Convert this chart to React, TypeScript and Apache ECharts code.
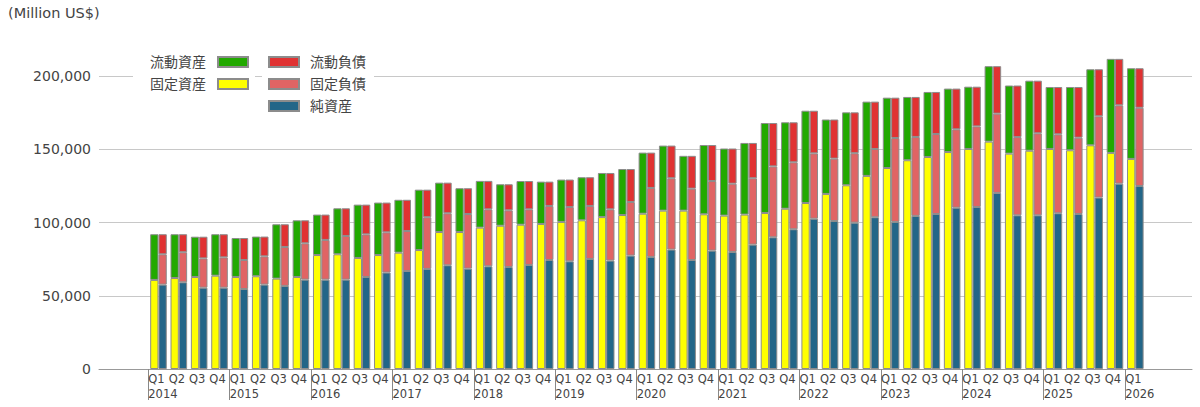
import React, { useEffect, useRef } from "react";
import * as echarts from "echarts";

const years = [2014, 2015, 2016, 2017, 2018, 2019, 2020, 2021, 2022, 2023, 2024, 2025, 2026];
const quarterNames = ["Q1", "Q2", "Q3", "Q4"];
const yTicks = [0, 50000, 100000, 150000, 200000];

// 流動資産 (current assets)
const currentAssets = [
  31200, 29900, 27500, 28300, 26600, 27100, 37100, 38700, 27600, 31400, 36400, 35800,
  36100, 41200, 33700, 29900, 31900, 28300, 29800, 28900, 28900, 29400, 30100, 31400,
  41700, 44400, 37400, 47300, 45800, 48900, 61400, 59000, 63000, 50800, 49800, 50700,
  48000, 43200, 44400, 43300, 42500, 51500, 46500, 47800, 42300, 43200, 51900, 64200,
  61900,
];
// 固定資産 (fixed assets)
const fixedAssets = [
  60800, 62100, 62800, 63700, 62800, 63300, 61700, 62800, 77800, 78300, 75800, 77800,
  79400, 81200, 93500, 93500, 96500, 97800, 98500, 99000, 100400, 101500, 103700, 105100,
  106000, 108100, 108100, 105600, 104700, 105400, 106500, 109400, 113300, 119500, 125400, 131800,
  137200, 142500, 144700, 148100, 150200, 155200, 147000, 149000, 150200, 149300, 152700, 147500,
  143400,
];
// 流動負債 (current liabilities)
const currentLiabilities = [
  13700, 12300, 14800, 15800, 15000, 13500, 15500, 15700, 17300, 18900, 20300, 20300,
  21300, 18800, 20900, 17600, 19400, 17800, 19300, 16600, 18700, 19600, 24800, 22500,
  24100, 22300, 22400, 24600, 24000, 24100, 29600, 27300, 29100, 26700, 27900, 32300,
  27500, 27300, 28700, 27800, 27100, 32400, 35200, 35900, 32300, 34600, 32100, 31700,
  27000,
];
// 固定負債 (fixed liabilities)
const fixedLiabilities = [
  20700, 20500, 20000, 20700, 19800, 19300, 26600, 24800, 27100, 29800, 29100, 27500,
  27300, 35300, 35500, 37300, 38900, 38700, 38000, 36900, 37100, 36200, 35000, 36600,
  47100, 48700, 48700, 47500, 46600, 45300, 48400, 45700, 44600, 42600, 47400, 46600,
  57300, 53900, 54600, 53500, 55000, 54100, 53400, 56000, 53900, 52100, 55500, 53500,
  53400,
];
// 純資産 (net assets)
const netAssets = [
  57600, 59200, 55500, 55500, 54600, 57600, 56700, 61000, 61000, 61000, 62800, 65800,
  66900, 68300, 70800, 68500, 70100, 69600, 71000, 74400, 73500, 75100, 74000, 77400,
  76500, 81500, 74400, 80800, 79900, 84900, 89900, 95400, 102600, 101000, 99900, 103600,
  100400, 104500, 105800, 110100, 110600, 120200, 104900, 104900, 106300, 105800, 117000, 126500,
  124900,
];

const categories: string[] = [];
years.forEach((y) => {
  quarterNames.forEach((q) => {
    if (categories.length < currentAssets.length) categories.push(q + " " + y);
  });
});

const FONT = "'DejaVu Sans', 'Noto Sans CJK JP', sans-serif";
const BORDER = "#8c8c8c";

export default function App() {
  const ref = useRef<HTMLDivElement>(null);
  useEffect(() => {
    if (!ref.current) return;
    const chart = echarts.init(ref.current, undefined, { renderer: "svg" });
    const labelCats = [...categories, ""];
    const barStyle = (color: string) => ({ color, borderColor: BORDER, borderWidth: 1 });
    const mkBar = (name: string, data: number[], stack: string, color: string) => ({
      name,
      type: "bar",
      stack,
      data,
      xAxisIndex: 1,
      yAxisIndex: 1,
      barWidth: 8.3,
      barGap: "0%",
      clip: false,
      itemStyle: barStyle(color),
      emphasis: { disabled: true },
    });
    chart.setOption({
      animation: false,
      textStyle: { fontFamily: FONT },
      title: {
        text: "(Million US$)",
        left: 8,
        top: 6,
        padding: 0,
        textStyle: { fontSize: 14.5, fontWeight: "normal", color: "#444", fontFamily: FONT },
      },
      legend: [
        {
          data: ["流動資産", "固定資産"],
          orient: "vertical",
          align: "right",
          icon: "rect",
          left: 133,
          top: 50,
          padding: [5, 6, 5, 17],
          itemWidth: 30,
          itemHeight: 10,
          itemGap: 8,
          backgroundColor: "#fff",
          selectedMode: false,
          textStyle: { fontSize: 14, color: "#444", fontFamily: FONT, padding: [0, 7, 0, 0] },
        },
        {
          data: ["流動負債", "固定負債", "純資産"],
          orient: "vertical",
          align: "left",
          icon: "rect",
          left: 262,
          top: 50,
          padding: [5, 8, 5, 6],
          itemWidth: 30,
          itemHeight: 10,
          itemGap: 8,
          backgroundColor: "#fff",
          selectedMode: false,
          textStyle: { fontSize: 14, color: "#444", fontFamily: FONT, padding: [0, 0, 0, 6] },
        },
      ],
      grid: [
        { left: 99, right: 8, top: 76, bottom: 38 },
        { left: 148.3, right: 54.5, top: 76, bottom: 38 },
      ],
      xAxis: [
        {
          gridIndex: 0,
          type: "value",
          position: "bottom",
          min: 0,
          max: 1,
          axisLine: { show: true, lineStyle: { color: "#999", width: 1 } },
          axisTick: { show: false },
          axisLabel: { show: false },
          splitLine: { show: false },
        },
        {
          gridIndex: 1,
          type: "category",
          position: "bottom",
          data: categories,
          axisLine: { show: false },
          axisTick: { show: false },
          axisLabel: { show: false },
        },
        {
          gridIndex: 1,
          type: "category",
          position: "bottom",
          offset: 0,
          data: labelCats,
          boundaryGap: false,
          axisLine: { show: false },
          axisTick: {
            show: true,
            length: 31,
            interval: (i: number) => i % 4 === 0 && i < categories.length,
            lineStyle: { color: "#888", width: 1 },
          },
          axisLabel: {
            interval: 0,
            align: "left",
            margin: 2,
            fontSize: 11.5,
            lineHeight: 15,
            color: "#444",
            fontFamily: FONT,
            formatter: (v: string) => {
              if (!v) return "";
              const [q, y] = v.split(" ");
              return q === "Q1" ? q + "\n" + y : q;
            },
          },
        },
      ],
      yAxis: [
        {
          gridIndex: 0,
          type: "value",
          min: yTicks[0],
          max: yTicks[yTicks.length - 1],
          interval: yTicks[1] - yTicks[0],
          axisLine: { show: false },
          axisTick: { show: false },
          axisLabel: {
            margin: 8,
            fontSize: 14,
            color: "#444",
            fontFamily: FONT,
            formatter: (v: number) => v.toLocaleString("en-US"),
          },
          splitLine: { show: true, lineStyle: { color: "#c8c8c8", width: 1 } },
        },
        {
          gridIndex: 1,
          type: "value",
          min: yTicks[0],
          max: yTicks[yTicks.length - 1],
          interval: yTicks[1] - yTicks[0],
          show: false,
          splitLine: { show: false },
        },
      ],
      series: [
        mkBar("固定資産", fixedAssets, "assets", "#ffff00"),
        mkBar("流動資産", currentAssets, "assets", "#22a900"),
        mkBar("純資産", netAssets, "liab", "#236688"),
        mkBar("固定負債", fixedLiabilities, "liab", "#e06464"),
        mkBar("流動負債", currentLiabilities, "liab", "#e03232"),
      ],
    });
    return () => chart.dispose();
  }, []);
  return (
    <div
      ref={ref}
      style={{ position: "absolute", left: 0, top: 0, width: 1200, height: 407 }}
    />
  );
}
